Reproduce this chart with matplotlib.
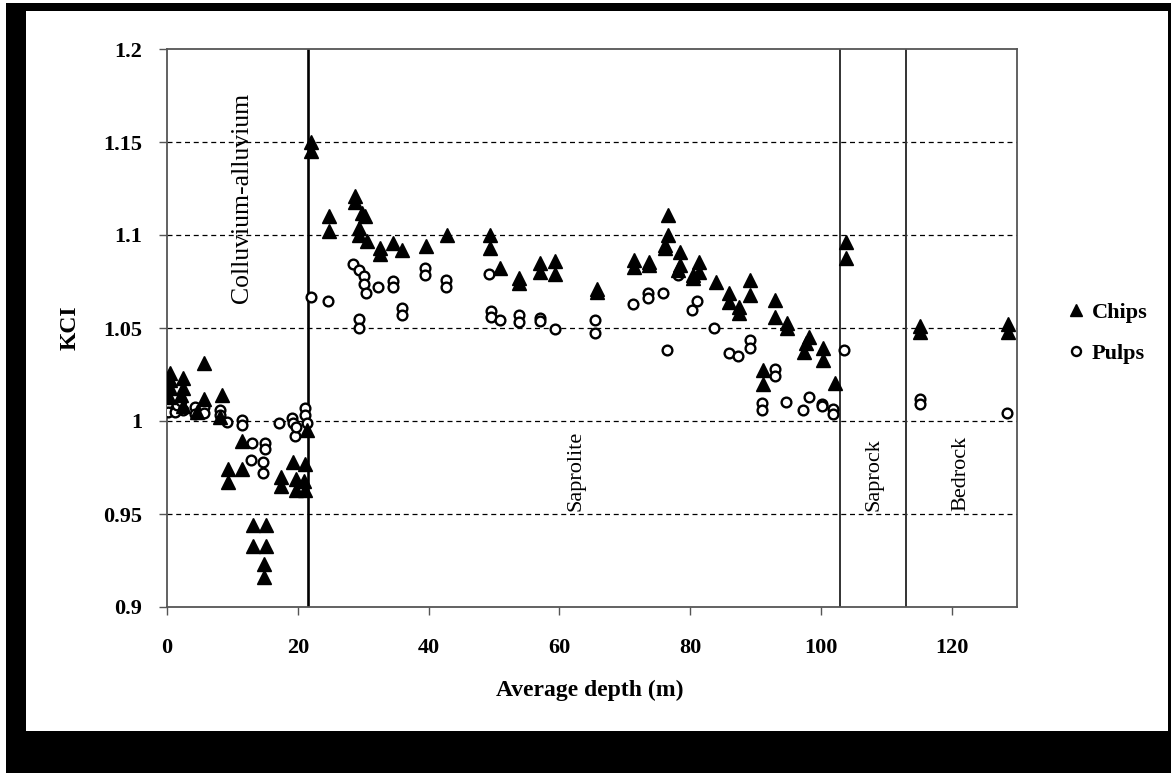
import matplotlib
matplotlib.use("Agg")
import matplotlib.pyplot as plt
from matplotlib.patches import Rectangle
from matplotlib.lines import Line2D

plt.rcParams['font.family'] = ['Liberation Serif', 'DejaVu Serif']

# ---- data ----
chips_depth = [0.5, 0.5, 0.4, 0.3, 2.5, 2.5, 2.2, 2.5, 5.7, 5.7, 4.6, 8.4, 8.1,
               11.4, 9.4, 11.4, 9.4, 13.1, 15.2, 13.1, 15.2, 14.8, 14.8,
               17.4, 17.4, 19.3, 19.8, 19.8, 21.1, 20.9, 21.1, 21.4,
               22.0, 22.0, 24.7, 24.7, 28.8, 28.8, 29.8, 29.3, 29.3, 30.3, 30.6,
               32.6, 32.6, 34.6, 36.0, 39.6, 42.8, 49.4, 49.4, 51.0, 53.9, 53.9,
               57.1, 57.1, 59.4, 59.4, 65.7, 65.7, 71.4, 71.4, 73.7, 73.7,
               76.6, 76.6, 76.1, 76.1, 78.4, 78.4, 78.2, 81.3, 81.3, 80.4, 80.4,
               83.9, 85.9, 85.9, 87.5, 87.5, 89.2, 89.2, 93.0, 93.0, 94.8, 94.8,
               98.2, 97.7, 97.4, 100.3, 100.3, 102.1, 91.2, 91.2, 103.8, 103.8,
               115.2, 115.2, 128.7, 128.7]
chips_kci = [1.026, 1.022, 1.018, 1.013, 1.023, 1.018, 1.014, 1.008, 1.031, 1.012, 1.005, 1.014, 1.002,
             0.989, 0.974, 0.974, 0.967, 0.944, 0.944, 0.933, 0.933, 0.923, 0.916,
             0.970, 0.965, 0.978, 0.969, 0.963, 0.977, 0.968, 0.963, 0.995,
             1.150, 1.145, 1.110, 1.102, 1.121, 1.118, 1.112, 1.104, 1.100, 1.110, 1.097,
             1.093, 1.090, 1.0955, 1.092, 1.094, 1.100, 1.100, 1.093, 1.082, 1.077, 1.074,
             1.085, 1.080, 1.086, 1.079, 1.071, 1.0695, 1.0866, 1.083, 1.0857, 1.084,
             1.111, 1.100, 1.0946, 1.093, 1.091, 1.084, 1.081, 1.0857, 1.080, 1.0785, 1.0767,
             1.0749, 1.0686, 1.064, 1.0615, 1.058, 1.0758, 1.0677, 1.065, 1.056, 1.0525, 1.050,
             1.045, 1.0418, 1.037, 1.039, 1.0328, 1.0206, 1.0274, 1.020, 1.0964, 1.0875,
             1.051, 1.048, 1.052, 1.048]

pulps_depth = [0.2, 0.2, 1.2, 1.5, 2.2, 2.5, 4.3, 4.3, 5.6, 5.6, 8.1, 8.1, 9.1,
               11.4, 11.4, 13.0, 15.0, 15.0, 12.8, 14.7, 14.7, 17.2, 19.1, 19.3, 19.6, 19.8,
               21.1, 21.1, 21.4, 22.0, 24.6, 28.5, 29.4, 30.2, 30.2, 30.5, 29.3, 29.3,
               32.3, 34.5, 34.5, 36.0, 36.0, 39.5, 39.5, 42.7, 42.7, 49.3, 49.6, 49.6, 50.9,
               53.8, 53.8, 57.0, 57.0, 59.3, 65.4, 65.4, 71.3, 73.6, 73.6, 75.9, 76.5, 78.1,
               81.1, 80.3, 83.7, 85.9, 87.3, 89.1, 89.1, 91.0, 91.0, 93.0, 93.0, 94.7, 97.3,
               98.2, 100.2, 100.2, 101.9, 101.9, 103.6, 115.1, 115.1, 128.5]
pulps_kci = [1.0095, 1.005, 1.005, 1.0086, 1.011, 1.006, 1.0077, 1.004, 1.0077, 1.0045, 1.006, 1.003, 0.9996,
             1.0005, 0.998, 0.988, 0.988, 0.985, 0.979, 0.978, 0.972, 0.999, 1.0015, 0.999, 0.992, 0.997,
             1.007, 1.003, 0.999, 1.0665, 1.0645, 1.0844, 1.081, 1.078, 1.0735, 1.069, 1.055, 1.050,
             1.072, 1.075, 1.0722, 1.0606, 1.057, 1.082, 1.0785, 1.0758, 1.072, 1.079, 1.059, 1.056, 1.0543,
             1.057, 1.0534, 1.0552, 1.054, 1.0493, 1.0543, 1.0471, 1.0629, 1.069, 1.066, 1.069, 1.0382, 1.0785,
             1.0647, 1.0597, 1.0498, 1.0367, 1.035, 1.0435, 1.039, 1.0098, 1.006, 1.028, 1.024, 1.0104, 1.006,
             1.0131, 1.009, 1.0078, 1.0063, 1.0038, 1.0382, 1.0117, 1.009, 1.0045]

boundaries = [21.6, 103.0, 113.0]
zone_labels = ["Colluvium-alluvium", "Saprolite", "Saprock", "Bedrock"]
zone_label_x = [11.4, 62.6, 108.1, 121.4]

x_ticks = [0, 20, 40, 60, 80, 100, 120]
y_ticks = [0.9, 0.95, 1.0, 1.05, 1.1, 1.15, 1.2]
y_tick_labels = ["0.9", "0.95", "1", "1.05", "1.1", "1.15", "1.2"]

# ---- figure ----
W, H = 1171, 773
fig = plt.figure(figsize=(W / 100, H / 100), dpi=100)
fig.patch.set_facecolor("white")
fig.patches.append(Rectangle((6 / W, 0), 1 - 6 / W, 1 - 3 / H, transform=fig.transFigure,
                             facecolor="black", edgecolor="none", zorder=-10))
fig.patches.append(Rectangle((26 / W, 1 - 731 / H), (1168 - 26) / W, (731 - 11) / H,
                             transform=fig.transFigure, facecolor="white", edgecolor="none", zorder=-9))

ax = fig.add_axes([167 / W, 1 - 607 / H, (1017 - 167) / W, (607 - 49) / H])
ax.set_facecolor("white")
ax.set_xlim(0, 130)
ax.set_ylim(0.9, 1.2)

for yv in y_ticks[1:-1]:
    ax.axhline(yv, color="black", lw=0.9, ls=(0, (4, 3)), zorder=1)

ax.axvline(boundaries[0], color="black", lw=1.9, zorder=2)
ax.axvline(boundaries[1], color="#333333", lw=1.4, zorder=2)
ax.axvline(boundaries[2], color="#333333", lw=1.4, zorder=2)

ax.plot(pulps_depth, pulps_kci, ls="none", marker="o", ms=7, mfc="white", mec="black",
        mew=1.7, zorder=3, label="Pulps")
ax.plot(chips_depth, chips_kci, ls="none", marker="^", ms=9.5, mfc="black", mec="black",
        zorder=4, label="Chips")

ax.text(zone_label_x[0], 1.1765, zone_labels[0], ha="center", va="top", fontsize=18.5, rotation=90)
for lab, xv in zip(zone_labels[1:], zone_label_x[1:]):
    ax.text(xv, 0.9515, lab, ha="center", va="bottom", fontsize=16, rotation=90)

ax.set_xticks(x_ticks)
ax.set_yticks(y_ticks)
ax.set_yticklabels(y_tick_labels)
ax.tick_params(axis="both", direction="out", length=6, width=1, color="#555555",
               labelsize=16)
ax.tick_params(axis="y", pad=12)
ax.tick_params(axis="x", pad=16)
for lab in ax.get_xticklabels() + ax.get_yticklabels():
    lab.set_fontweight("bold")

for sp in ax.spines.values():
    sp.set_color("#555555")
    sp.set_linewidth(1.3)

ax.set_xlabel("Average depth (m)", fontsize=17, fontweight="bold")
ax.set_ylabel("KCI", fontsize=17, fontweight="bold")
ax.xaxis.set_label_coords((590 - 167) / 850, (607 - 690) / 558)
ax.yaxis.set_label_coords((70 - 167) / 850, 0.5)
ax.xaxis.label.set_va("center")
ax.yaxis.label.set_va("center")

handles = [Line2D([], [], ls="none", marker="^", ms=9, mfc="black", mec="black"),
           Line2D([], [], ls="none", marker="o", ms=6.5, mfc="white", mec="black", mew=1.7)]
leg = fig.legend(handles, ["Chips", "Pulps"], loc="center left",
                 bbox_to_anchor=(1047 / W, 1 - 333 / H), frameon=False,
                 handlelength=0.8, handletextpad=0.3, labelspacing=0.9,
                 prop=dict(size=16, weight="bold"))

fig.savefig("out.png", dpi=100, facecolor=fig.get_facecolor())
